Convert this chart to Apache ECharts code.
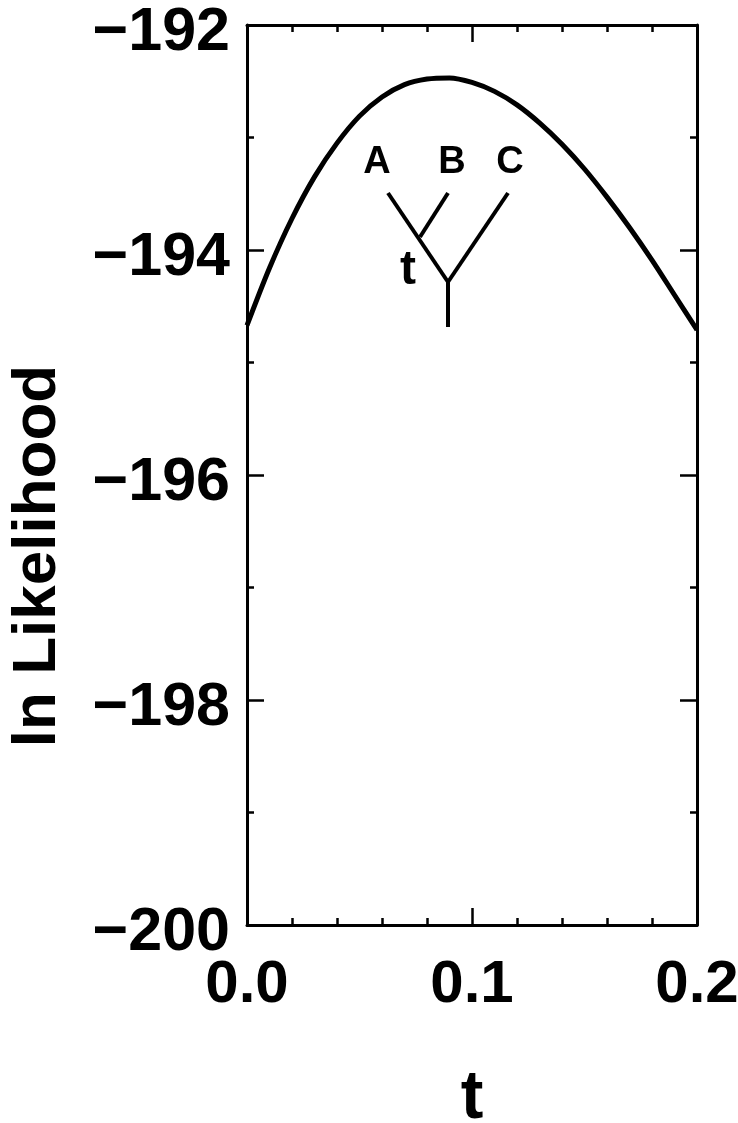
<!DOCTYPE html>
<html>
<head>
<meta charset="utf-8">
<script src="https://cdn.jsdelivr.net/npm/echarts@6/dist/echarts.min.js"></script>
<style>
  html, body { margin: 0; padding: 0; background: #fff; }
  #chart { width: 738px; height: 1123px; }
</style>
</head>
<body>
<div id="chart"></div>
<script>
// Branch length t (x) and the log-likelihood of the tree at that length (y)
const tValues = [0.00, 0.01, 0.02, 0.03, 0.04, 0.05, 0.06, 0.07, 0.08, 0.09, 0.10,
                 0.11, 0.12, 0.13, 0.14, 0.15, 0.16, 0.17, 0.18, 0.19, 0.20];
const lnLikelihood = [-194.67, -194.16, -193.72, -193.35, -193.05, -192.81, -192.64, -192.53,
                      -192.48, -192.47, -192.51, -192.59, -192.71, -192.87, -193.06, -193.28,
                      -193.53, -193.80, -194.09, -194.40, -194.71];

// Tick labels
const xTickLabels = ['0.0', '0.1', '0.2'];
const yTickValues = [-200, -198, -196, -194, -192];

// Inset tree: taxa names and the branch label
const taxa = ['A', 'B', 'C'];
const branchLabel = 't';

const FONT = '"Liberation Sans", Arial, Helvetica, sans-serif';
const chart = echarts.init(document.getElementById('chart'), null, { renderer: 'canvas' });

const frame = { left: 247, top: 25, right: 697, bottom: 925 };

function fmtX(v) {
  const i = Math.round(v / 0.1);
  return xTickLabels[i] !== undefined ? xTickLabels[i] : '';
}
function fmtY(v) {
  return yTickValues.indexOf(v) >= 0 ? '{v|\u2212' + Math.abs(v) + '}' : '';
}

const axisLineStyle = { color: '#000', width: 3 };
const majorTick = { show: true, inside: true, length: 17, lineStyle: { color: '#000', width: 2.5 } };

const baseX = {
  type: 'value', min: 0, max: 0.2, interval: 0.1,
  axisLine: { show: true, onZero: false, lineStyle: axisLineStyle },
  axisTick: majorTick,
  minorTick: { show: true, splitNumber: 5, length: 7, lineStyle: { color: '#000', width: 2.5 } },
  splitLine: { show: false }, minorSplitLine: { show: false }
};
const baseY = {
  type: 'value', min: -200, max: -192, interval: 2,
  axisLine: { show: true, onZero: false, lineStyle: axisLineStyle },
  axisTick: majorTick,
  minorTick: { show: true, splitNumber: 2, length: 7, lineStyle: { color: '#000', width: 2.5 } },
  splitLine: { show: false }, minorSplitLine: { show: false }
};

// Inset tree drawn inside the plot area
const tree = {
  a: [388, 193], ab: [420, 237], b: [448, 193], root: [448, 282], c: [508, 193], base: [448, 327]
};
const treeLine = { stroke: '#000', lineWidth: 4, lineCap: 'butt' };
const treeLabelPos = [[377, 163], [452, 163], [510, 163]];

const option = {
  backgroundColor: '#fff',
  animation: false,
  grid: {
    left: frame.left, top: frame.top, right: 738 - frame.right, bottom: 1123 - frame.bottom,
    containLabel: false, outerBoundsMode: 'none'
  },
  xAxis: [
    Object.assign({}, baseX, {
      position: 'bottom',
      name: 't', nameLocation: 'middle', nameGap: 140,
      nameTextStyle: { fontFamily: FONT, fontWeight: 'bold', fontSize: 68, color: '#000' },
      axisLabel: { show: true, margin: 30, formatter: fmtX, fontFamily: FONT, fontWeight: 'bold', fontSize: 60, color: '#000' }
    }),
    Object.assign({}, baseX, { position: 'top', axisLabel: { show: false } })
  ],
  yAxis: [
    Object.assign({}, baseY, {
      position: 'left',
      name: 'ln Likelihood', nameLocation: 'middle', nameGap: 178, nameRotate: 90,
      nameTextStyle: { fontFamily: FONT, fontWeight: 'bold', fontSize: 62, color: '#000', padding: [0, 162, 0, 0] },
      axisLabel: {
        show: true, margin: 17, formatter: fmtY,
        fontFamily: FONT, fontWeight: 'bold', fontSize: 61, color: '#000',
        rich: {
          v: { fontFamily: FONT, fontWeight: 'bold', fontSize: 61, color: '#000', padding: [16, 0, 0, 0] }
        }
      }
    }),
    Object.assign({}, baseY, { position: 'right', axisLabel: { show: false } })
  ],
  series: [{
    type: 'line',
    xAxisIndex: 0, yAxisIndex: 0,
    data: tValues.map((t, i) => [t, lnLikelihood[i]]),
    showSymbol: false, symbol: 'none',
    smooth: 0.3,
    lineStyle: { color: '#000', width: 5 },
    silent: true
  }],
  graphic: [
    { type: 'polyline', shape: { points: [tree.a, tree.root] }, style: treeLine },
    { type: 'polyline', shape: { points: [tree.b, tree.ab] }, style: treeLine },
    { type: 'polyline', shape: { points: [tree.c, tree.root] }, style: treeLine },
    { type: 'polyline', shape: { points: [tree.root, tree.base] }, style: treeLine }
  ].concat(taxa.map((name, i) => ({
    type: 'text', x: treeLabelPos[i][0], y: treeLabelPos[i][1],
    style: { text: name, fill: '#000', font: 'bold 38px ' + FONT, textAlign: 'center', textVerticalAlign: 'middle' }
  }))).concat([{
    type: 'text', x: 408, y: 271,
    style: { text: branchLabel, fill: '#000', font: 'bold 48px ' + FONT, textAlign: 'center', textVerticalAlign: 'middle' }
  }])
};

chart.setOption(option);
</script>
</body>
</html>
